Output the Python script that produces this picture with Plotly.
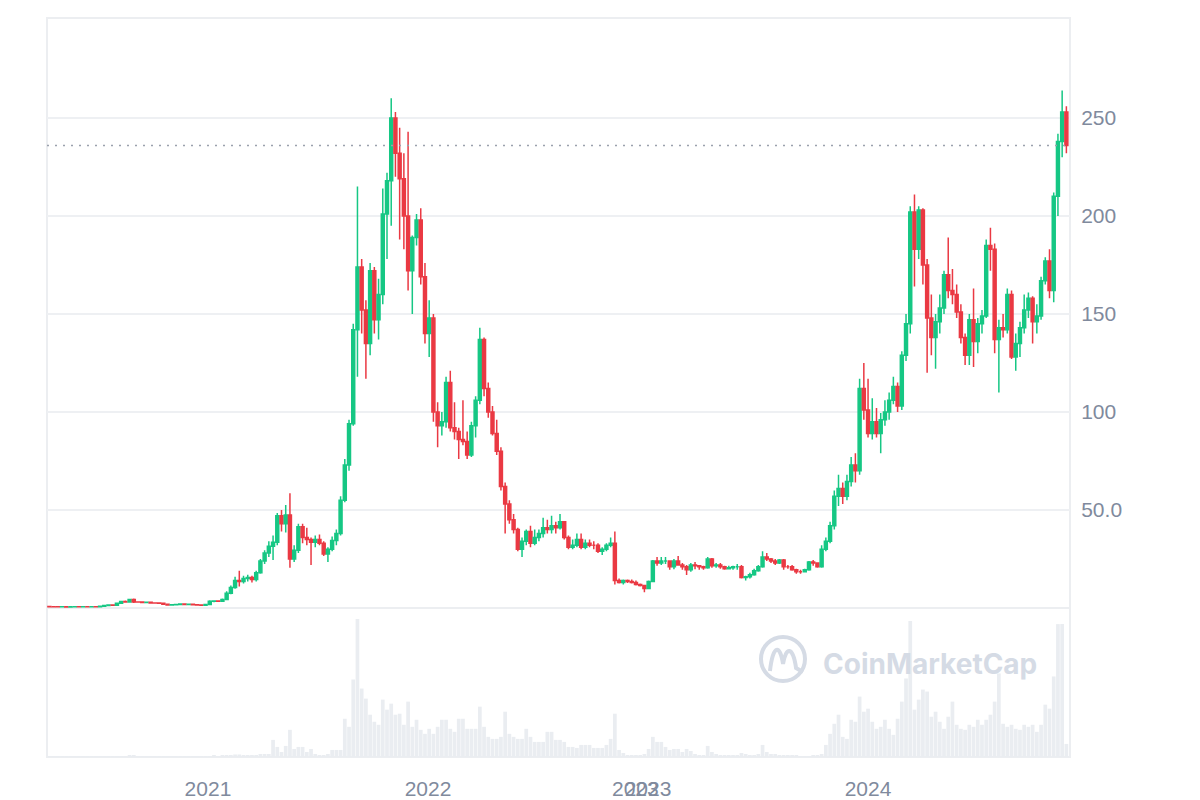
import pandas as pd
import plotly.graph_objects as go

# ---------------- data (weekly candles, SOL/USD) ----------------
first_week = "2020-04-13"
first_open = 0.78

close = [
    0.66, 0.62, 0.60, 0.62, 0.57, 0.63, 0.66, 0.64, 0.68, 0.62,
    0.70, 0.65, 0.95, 1.25, 1.55, 1.45, 2.45, 3.30, 3.00, 4.30,
    3.10, 3.00, 2.80, 2.90, 2.60, 2.50, 2.40, 1.90, 1.50, 1.60,
    1.80, 2.10, 1.80, 1.90, 1.60, 1.55, 1.45, 1.80, 3.40, 3.60,
    3.40, 4.40, 7.50, 10.4, 14.0, 13.5, 15.0, 15.5, 14.5, 18.0,
    24.0, 28.0, 31.5, 33.5, 47.0, 43.0, 47.5, 25.0, 29.5, 41.5,
    36.0, 35.0, 33.5, 35.0, 33.0, 27.5, 30.0, 34.5, 38.0, 55.0,
    73.0, 94.0, 142, 174, 152, 135, 172, 147, 160, 201,
    218, 250, 232, 219, 200, 172, 189, 198, 169, 140,
    148, 100, 93, 95, 115, 92, 90, 86, 85, 78,
    93, 106, 137, 112, 100, 89, 80, 62, 53, 45,
    40, 30, 34, 39, 33, 36, 38, 41, 40, 42,
    41, 44, 36, 31, 32, 35, 31, 33, 32, 32,
    29, 30, 32, 33, 14, 13, 14, 13.5, 13, 12,
    11.5, 10, 13.5, 24, 23, 24, 24, 21, 24, 22,
    21, 19.5, 22, 21.5, 21, 20.5, 25, 21.5, 22, 21,
    20, 20.5, 21, 21, 15.5, 16, 17, 19, 21, 26,
    25, 24, 23, 24.5, 21, 21, 19.5, 18.5, 18.5, 19.5,
    23.5, 23, 21, 30, 34, 42, 57, 61, 57, 64.5,
    73, 70, 112, 101, 89, 95, 89, 96, 100, 106,
    113, 103, 129, 145, 202, 183, 203, 175, 148, 138,
    146, 153, 170, 162, 160, 151, 138, 129, 147, 136,
    145, 149, 185, 183, 137, 143, 142, 160, 128, 135,
    143, 152, 158, 146, 149, 167, 177, 162, 210, 238,
    253, 236,
]

high = [
    0.96, 0.70, 0.68, 0.70, 0.65, 0.67, 0.70, 0.72, 0.73, 0.72,
    0.74, 0.72, 1.00, 1.40, 1.70, 1.70, 2.60, 3.60, 3.80, 4.50,
    4.90, 3.50, 3.20, 3.10, 3.00, 2.70, 2.60, 2.40, 1.95, 1.70,
    1.90, 2.30, 2.40, 2.10, 1.95, 1.70, 1.60, 2.00, 3.90, 4.00,
    3.90, 4.90, 8.50, 11.5, 16.0, 19.0, 16.5, 17.0, 16.5, 19.0,
    25.0, 29.5, 34.0, 37.0, 48.5, 50.0, 52.5, 58.5, 32.0, 43.0,
    43.0, 41.0, 36.0, 37.0, 37.5, 34.0, 31.0, 36.5, 40.0, 57.0,
    76.0, 96.0, 145, 215, 178, 157, 176, 174, 168, 214,
    222, 260, 253, 245, 232, 243, 190, 201, 204, 176,
    157, 150, 105, 100, 118, 121, 105, 92, 106, 90,
    95, 108, 143, 138, 115, 103, 96, 82, 64, 55,
    48, 41, 36, 40, 42, 40, 40, 46, 45, 47,
    44, 48, 44, 37, 35, 38, 38, 35, 35, 34,
    33, 31, 33, 36, 39, 15, 14.5, 14.5, 14.5, 14,
    12.5, 11.5, 14, 24.5, 26, 26, 26, 24, 25, 26.5,
    23, 22, 23, 23.5, 22, 21.5, 26, 25.5, 23, 23,
    21.5, 21.5, 21.5, 22.5, 22, 16.5, 18, 20, 22, 29,
    28, 25.5, 25, 25, 25, 22, 22, 20, 19.5, 20,
    24, 24.5, 23, 32, 36, 44, 60, 68, 64, 68,
    77, 79, 117, 125, 117, 107, 102, 99.5, 106, 110,
    118, 115, 131, 150, 205, 211, 205, 204, 178, 160,
    150, 160, 172, 189, 173, 165, 155, 140, 150, 163,
    148, 152, 188, 194, 186, 147, 150, 163, 162, 140,
    146, 160, 161, 159, 155, 169, 179, 183, 212, 242,
    264, 256,
]

low = [
    0.51, 0.55, 0.55, 0.56, 0.52, 0.56, 0.60, 0.60, 0.62, 0.58,
    0.60, 0.62, 0.64, 0.90, 1.20, 1.30, 1.40, 2.30, 2.80, 2.90,
    2.60, 2.80, 2.60, 2.60, 2.50, 2.30, 2.20, 1.80, 1.40, 1.40,
    1.55, 1.75, 1.60, 1.70, 1.50, 1.45, 1.10, 1.40, 1.80, 2.90,
    3.00, 3.30, 4.30, 7.0, 9.8, 11.0, 12.5, 13.5, 13.0, 13.5,
    17.5, 22.5, 26.0, 24.5, 32.0, 39.0, 38.5, 20.5, 23.5, 28.0,
    33.0, 32.0, 22.0, 31.0, 32.0, 26.5, 23.5, 29.0, 32.0, 37.0,
    54.0, 70.0, 93, 118, 140, 117, 129, 140, 137, 155,
    178, 195, 220, 188, 183, 162, 150, 185, 165, 135,
    128, 95, 82, 88, 92, 90, 86, 76, 83, 76,
    77, 87, 104, 108, 97, 88, 78, 60, 38, 43,
    38, 29, 26, 32, 31, 32, 34, 36, 38, 38,
    38, 40, 35, 30, 30, 31, 30, 30, 31, 30,
    28, 27, 29, 31, 12, 12.5, 12, 12.8, 12.5, 11.5,
    11, 8, 9.8, 13.3, 21.5, 22, 22.5, 19.5, 19.8, 21.5,
    19.5, 16.8, 18.5, 19.8, 19.5, 19.5, 20, 20.5, 20.5, 20,
    19.5, 19.8, 19.5, 19.5, 15, 14, 15, 16.5, 18.5, 20.5,
    24, 23, 22, 22.5, 19.5, 20, 19, 17.5, 17.5, 18.5,
    19, 21.5, 20.5, 20.5, 29, 33, 40, 52, 53, 55,
    62, 64, 68, 96, 87, 86, 87, 79, 93, 96,
    104, 100, 101, 126, 140, 164, 178, 165, 120, 129,
    122, 140, 150, 158, 155, 148, 135, 124, 124, 123,
    130, 140, 148, 172, 130, 110, 138, 140, 127, 121,
    128, 140, 148, 135, 140, 147, 165, 158, 156, 200,
    230, 232,
]

volume_bn = [
    0.3, 0.2, 0.2, 0.2, 0.2, 0.2, 0.2, 0.2, 0.2, 0.2,
    0.2, 0.2, 0.3, 0.4, 0.4, 0.4, 0.6, 0.8, 0.8, 1.0,
    1.0, 0.8, 0.6, 0.5, 0.5, 0.4, 0.4, 0.4, 0.5, 0.4,
    0.4, 0.5, 0.5, 0.4, 0.4, 0.3, 0.3, 0.5, 0.8, 1.0,
    0.8, 1.0, 1.5, 1.5, 2.5, 2.5, 1.5, 1.5, 1.2, 2.0,
    3, 3, 3, 17, 10, 5, 11, 27, 8, 10,
    10, 5, 8, 3, 2, 2, 3, 7, 7, 7,
    38, 30, 77, 137, 68, 58, 42, 35, 32, 57,
    47, 53, 42, 43, 32, 55, 30, 37, 27, 23,
    28, 23, 30, 37, 37, 28, 25, 38, 38, 28,
    28, 28, 50, 30, 20, 18, 18, 20, 45, 23,
    20, 18, 18, 28, 20, 15, 15, 15, 25, 25,
    17, 17, 15, 10, 10, 9, 12, 12, 12, 9,
    9, 9, 12, 18, 43, 7, 4, 2, 2, 2,
    1, 3, 8, 20, 15, 15, 10, 7, 8, 8,
    5, 8, 6, 3, 2, 2, 11, 5, 3, 2,
    2, 1, 1, 1, 4, 3, 2, 2, 3, 12,
    5, 3, 3, 2, 2, 1, 1, 1, 0.5, 0.5,
    0.5, 1, 1, 3, 12, 23, 33, 42, 20, 18,
    37, 35, 60, 45, 48, 35, 28, 30, 37, 28,
    22, 38, 55, 78, 135, 47, 57, 67, 65, 40,
    45, 35, 28, 40, 55, 32, 28, 27, 32, 30,
    37, 32, 37, 42, 55, 83, 33, 30, 32, 28,
    27, 32, 30, 32, 25, 32, 52, 48, 80, 132,
    132, 13,
]

current_price = 236
price_ticks = [50, 100, 150, 200, 250]
price_tick_text = ["50.0", "100", "150", "200", "250"]
year_tick_dates = ["2021-01-01", "2022-01-01", "2022-12-11", "2023-01-01", "2024-01-01"]
year_tick_text = ["2021", "2022", "2023", "2023", "2024"]

# ---------------- figure ----------------
dates = pd.date_range(first_week, periods=len(close), freq="7D")
opens = [first_open] + close[:-1]

GREEN = "#16c784"
RED = "#ea3943"
LABEL = "#808a9d"
GRID = "#eef0f3"
WM = "#d5dbe5"

# page body has an 8px margin; the figure is sized so the plot area sits
# at x 47..1070 and y 18..757 of the 1200x800 window
OFF = 8
W, H = 1200 - OFF, 800 - OFF
L, T = 47 - OFF, 18 - OFF
plot_w = 1070 - 47
plot_h = 757 - 18
R = W - L - plot_w
B = H - T - plot_h
price_bottom_px = 608
split = (757 - price_bottom_px) / plot_h


def px_x(px):
    return (px - 47) / plot_w


def px_y(py):
    return (757 - py) / plot_h


fig = go.Figure()

fig.add_trace(go.Bar(
    x=dates, y=volume_bn, yaxis="y2",
    marker=dict(color="#eaedf1", line=dict(width=0)),
    hoverinfo="skip", showlegend=False,
))

fig.add_trace(go.Candlestick(
    x=dates, open=opens, high=high, low=low, close=close,
    increasing=dict(line=dict(color=GREEN, width=1.5), fillcolor=GREEN),
    decreasing=dict(line=dict(color=RED, width=1.5), fillcolor=RED),
    whiskerwidth=0, showlegend=False,
))

shapes = [
    dict(type="rect", xref="paper", yref="paper", x0=0, x1=1, y0=0, y1=1,
         line=dict(color="#eceef1", width=2), layer="below"),
    dict(type="line", xref="paper", yref="paper", x0=0, x1=1, y0=split, y1=split,
         line=dict(color="#eceef1", width=2), layer="below"),
    dict(type="line", xref="paper", yref="y", x0=0, x1=1,
         y0=current_price, y1=current_price,
         line=dict(color="#9aa1ad", width=1.5, dash="2px,6px")),
    dict(type="circle", xref="paper", yref="paper",
         x0=px_x(761), x1=px_x(805), y0=px_y(681), y1=px_y(637),
         line=dict(color=WM, width=4)),
    dict(type="path", xref="paper", yref="paper",
         path="M {:.4f},{:.4f} C {:.4f},{:.4f} {:.4f},{:.4f} {:.4f},{:.4f} "
              "C {:.4f},{:.4f} {:.4f},{:.4f} {:.4f},{:.4f} L {:.4f},{:.4f}".format(
             px_x(770), px_y(671),
             px_x(773), px_y(644), px_x(780), px_y(644), px_x(783), px_y(664),
             px_x(786), px_y(646), px_x(793), px_y(646), px_x(796), px_y(668),
             px_x(803), px_y(672)),
         line=dict(color=WM, width=4)),
]

annotations = [
    dict(text="CoinMarketCap", xref="paper", yref="paper",
         x=px_x(821), y=px_y(664), xanchor="left", yanchor="middle",
         showarrow=False,
         font=dict(family="Inter, Lato, sans-serif", size=28, color=WM, weight=700)),
]

fig.update_layout(
    width=W, height=H,
    margin=dict(l=L, r=R, t=T, b=B, autoexpand=False),
    paper_bgcolor="white", plot_bgcolor="white",
    showlegend=False,
    bargap=0.12,
    boxgap=0.0,
    font=dict(family="Liberation Sans, Arial, sans-serif", color=LABEL),
    xaxis=dict(
        type="date", anchor="y2", automargin=False,
        range=["2020-04-09", "2024-12-01"],
        rangeslider=dict(visible=False),
        tickmode="array", tickvals=year_tick_dates, ticktext=year_tick_text,
        tickangle=0,
        showgrid=False, zeroline=False, showline=False,
        ticks="outside", ticklen=13, tickcolor="rgba(0,0,0,0)",
        tickfont=dict(size=21, color=LABEL),
    ),
    yaxis=dict(
        domain=[split, 1], range=[0, 301], side="right", anchor="x",
        automargin=False,
        tickmode="array", tickvals=price_ticks, ticktext=price_tick_text,
        showgrid=True, gridcolor=GRID, gridwidth=2,
        zeroline=False, showline=False,
        ticks="outside", ticklen=6, tickcolor="rgba(0,0,0,0)",
        tickfont=dict(size=21, color=LABEL),
    ),
    yaxis2=dict(
        domain=[0, split], range=[0, 148], visible=False, anchor="x",
        fixedrange=True,
    ),
    shapes=shapes,
    annotations=annotations,
)

fig.write_html("out.html")
